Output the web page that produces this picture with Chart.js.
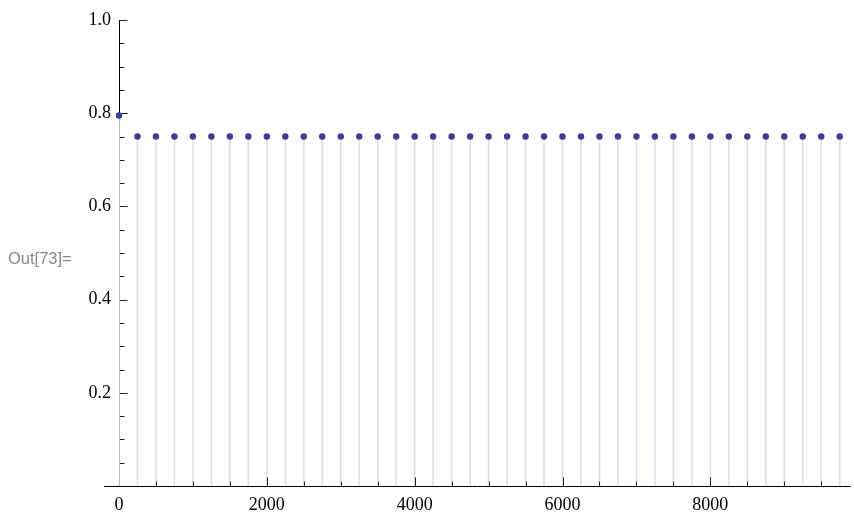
<!DOCTYPE html>
<html><head><meta charset="utf-8">
<script src="https://cdn.jsdelivr.net/npm/chart.js@4.4.1/dist/chart.umd.min.js"></script>
<style>
html,body{margin:0;padding:0;background:#fff;overflow:hidden}
#wrap{position:relative;width:854px;height:513px}
#out{position:absolute;left:8px;top:249px;font:16.5px "Liberation Sans",Arial,sans-serif;line-height:18px;color:#8a8a8a}
</style>
</head><body>
<div id="wrap"><canvas id="c" width="854" height="513"></canvas><div id="out">Out[73]=</div></div>
<script>
// ---- data ----
const xValues = [0,250,500,750,1000,1250,1500,1750,2000,2250,2500,2750,3000,3250,3500,3750,4000,4250,4500,4750,5000,5250,5500,5750,6000,6250,6500,6750,7000,7250,7500,7750,8000,8250,8500,8750,9000,9250,9500,9750];
const yValues = [0.795,0.75,0.75,0.75,0.75,0.75,0.75,0.75,0.75,0.75,0.75,0.75,0.75,0.75,0.75,0.75,0.75,0.75,0.75,0.75,0.75,0.75,0.75,0.75,0.75,0.75,0.75,0.75,0.75,0.75,0.75,0.75,0.75,0.75,0.75,0.75,0.75,0.75,0.75,0.75];
const xTickValues = [0,2000,4000,6000,8000];
const yTickValues = [0.2,0.4,0.6,0.8,1.0];
const xMinorStep = 500;
const yMinorStep = 0.05;

const points = xValues.map((x,i)=>({x:x,y:yValues[i]}));
const tickFont = {family:'"Liberation Serif","Times New Roman",serif', size:18};

const axesPlugin = {
  id:'axes',
  beforeDatasetsDraw(chart){
    const {ctx, chartArea:a, scales:{x,y}} = chart;
    ctx.save();
    ctx.strokeStyle = '#000';
    ctx.lineWidth = 1;
    const y0 = Math.round(y.getPixelForValue(0)) + 0.5;
    const x0 = Math.round(x.getPixelForValue(0)) + 0.5;
    ctx.beginPath();
    ctx.moveTo(a.left - 15, y0); ctx.lineTo(a.right, y0);
    ctx.moveTo(x0, Math.round(y.getPixelForValue(1))); ctx.lineTo(x0, y0);
    ctx.stroke();
    ctx.strokeStyle = '#222';
    ctx.beginPath();
    for (let k = 1; k * yMinorStep <= y.max + 1e-9; k++) {
      const v = +(k * yMinorStep).toFixed(2);
      const py = Math.round(y.getPixelForValue(v)) + 0.5;
      const major = yTickValues.some(t => Math.abs(t - v) < 1e-9);
      const len = major ? 8 : 5;
      ctx.moveTo(x0, py); ctx.lineTo(x0 + len, py);
    }
    ctx.stroke();
    ctx.restore();
  },
  afterDatasetsDraw(chart){
    const {ctx, scales:{x,y}} = chart;
    ctx.save();
    ctx.strokeStyle = '#222';
    ctx.lineWidth = 1;
    const y0 = Math.round(y.getPixelForValue(0)) + 0.5;
    ctx.beginPath();
    for (let v = xMinorStep; v <= x.max + 1e-9; v += xMinorStep) {
      const px = Math.round(x.getPixelForValue(v)) + 0.5;
      const major = xTickValues.includes(v);
      const len = major ? 9 : 5;
      ctx.moveTo(px, y0); ctx.lineTo(px, y0 - len);
    }
    ctx.stroke();
    ctx.restore();
  }
};

new Chart(document.getElementById('c'), {
  type: 'scatter',
  data: {
    datasets: [
      {
        type: 'scatter',
        data: points,
        pointRadius: 3.2,
        pointHoverRadius: 3.2,
        backgroundColor: '#3d3d99',
        borderWidth: 0,
        showLine: false,
        clip: false,
        order: 1
      },
      {
        type: 'bar',
        data: points,
        barThickness: 1,
        backgroundColor: '#dedef0',
        borderWidth: 0,
        order: 2
      }
    ]
  },
  options: {
    responsive: false,
    devicePixelRatio: 1,
    animation: false,
    layout: {padding: {top: 20, right: 1, left: 0, bottom: 0}},
    plugins: {legend: {display: false}, tooltip: {enabled: false}},
    scales: {
      x: {
        type: 'linear', min: 0, max: 9900, offset: false,
        grid: {display: false, offset: false}, border: {display: false},
        ticks: {font: tickFont, color: '#000', padding: 0, maxRotation: 0,
                callback: v => String(v)},
        afterBuildTicks: s => { s.ticks = xTickValues.map(v => ({value: v})); },
        afterFit: s => { s.height = 27; }
      },
      y: {
        type: 'linear', min: 0, max: 1,
        grid: {display: false}, border: {display: false},
        ticks: {font: tickFont, color: '#000', padding: 0,
                callback: v => Number(v).toFixed(1)},
        afterBuildTicks: s => { s.ticks = yTickValues.map(v => ({value: v})); },
        afterFit: s => { s.width = 119; }
      }
    }
  },
  plugins: [axesPlugin]
});
</script>
</body></html>
